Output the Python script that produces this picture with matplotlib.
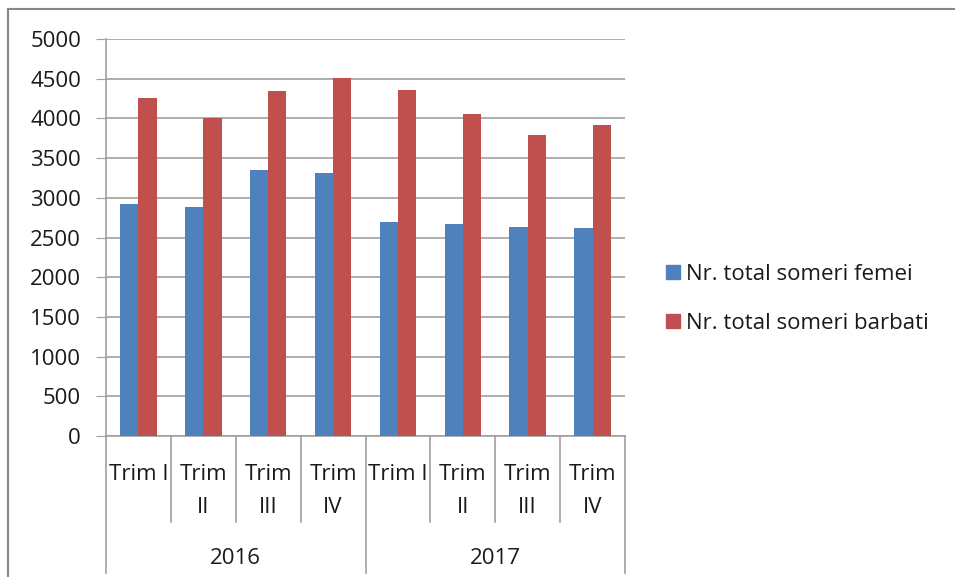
import matplotlib.pyplot as plt
from matplotlib.lines import Line2D
from matplotlib.patches import Patch
import numpy as np

plt.rcParams['font.family'] = ['Open Sans', 'DejaVu Sans']

years = ['2016', '2017']
quarters = ['Trim I', 'Trim\nII', 'Trim\nIII', 'Trim\nIV'] * 2
femei = [2925, 2890, 3345, 3310, 2700, 2665, 2635, 2615]
barbati = [4260, 4000, 4340, 4515, 4355, 4050, 3795, 3920]
series_names = ['Nr. total someri femei', 'Nr. total someri barbati']

W, H = 955, 577
fig = plt.figure(figsize=(W / 100, H / 100), dpi=100)
ax = fig.add_axes([106 / W, 1 - 436 / H, (625 - 106) / W, (436 - 39) / H])

blue = '#4F81BD'
red = '#C0504D'
grid_c = '#a0a0a0'
txt_c = '#1a1a1a'
fs = 16

x = np.arange(len(femei))
bw = 0.282
ax.bar(x - bw / 2, femei, bw, color=blue, zorder=3)
ax.bar(x + bw / 2, barbati, bw, color=red, zorder=3)

ax.set_xlim(-0.5, len(femei) - 0.5)
ax.set_ylim(0, 5000)
ax.set_yticks(np.arange(0, 5001, 500))
ax.yaxis.grid(True, color=grid_c, linewidth=1.2, zorder=0)
ax.tick_params(axis='y', length=7, color=grid_c, labelsize=fs, pad=11,
               labelcolor=txt_c)
ax.set_xticks([])
for s in ['top', 'right']:
    ax.spines[s].set_visible(False)
for s in ['left', 'bottom']:
    ax.spines[s].set_color(grid_c)
    ax.spines[s].set_linewidth(1.2)

# two-level category axis
tr = ax.get_xaxis_transform()
ph = 436 - 39  # axes height in px
for i in range(len(femei) + 1):
    b = i - 0.5
    low = -137 / ph if i % 4 == 0 else -86 / ph
    ax.add_line(Line2D([b, b], [0, low], transform=tr, color=grid_c,
                       linewidth=1.2, clip_on=False))
for i, lab in enumerate(quarters):
    for j, line in enumerate(lab.split('\n')):
        ax.text(i, -(480 - 436 + 33 * j) / ph, line, transform=tr,
                ha='center', va='baseline', fontsize=fs, color=txt_c)
for k, yr in enumerate(years):
    ax.text(4 * k + 1.5, -(564 - 436) / ph, yr, transform=tr,
            ha='center', va='baseline', fontsize=fs, color=txt_c)

handles = [Patch(color=blue), Patch(color=red)]
fig.legend(handles, series_names, loc='upper left',
           bbox_to_anchor=(666 / W, 1 - 264 / H), frameon=False,
           fontsize=fs, handlelength=0.62, handleheight=0.62,
           handletextpad=0.3, labelspacing=1.25, borderpad=0,
           borderaxespad=0, labelcolor=txt_c)

# outer chart frame
fig.add_artist(Line2D([8 / W, 1], [1 - 9 / H, 1 - 9 / H],
                      transform=fig.transFigure, color='#888888', linewidth=1.5))
fig.add_artist(Line2D([8 / W, 8 / W], [0, 1 - 9 / H],
                      transform=fig.transFigure, color='#888888', linewidth=1.5))

fig.savefig('out.png', dpi=100)
